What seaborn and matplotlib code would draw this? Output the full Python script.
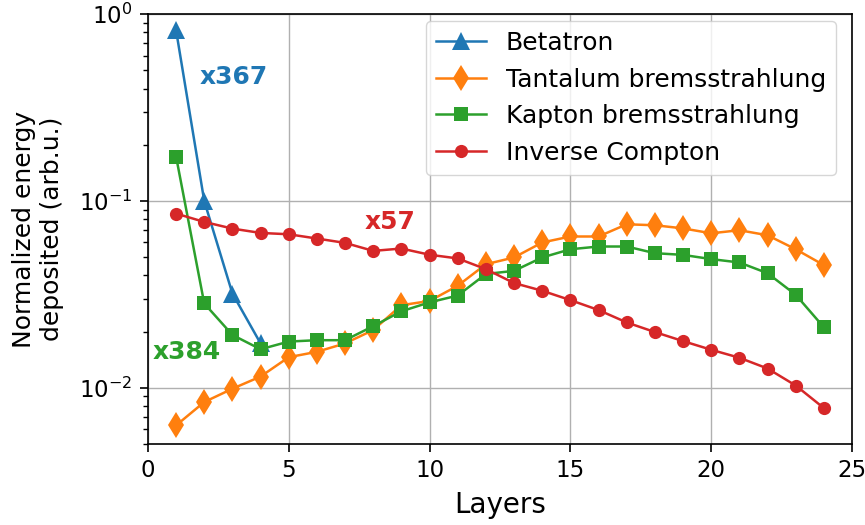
import numpy as np
import pandas as pd
import matplotlib
matplotlib.use("Agg")
import matplotlib.pyplot as plt
import seaborn as sns

# layer numbers
layers = list(range(1, 25))
betatron_layers = [1, 2, 3, 4]

# normalized energy deposited per layer
betatron = [0.82, 0.100, 0.032, 0.0173]
tantalum = [0.0063, 0.0084, 0.0099, 0.0115, 0.0146, 0.0156, 0.0173, 0.0204,
            0.0277, 0.0292, 0.0352, 0.0459, 0.0499, 0.0600, 0.0646, 0.0646,
            0.0751, 0.0742, 0.0714, 0.0672, 0.0698, 0.0656, 0.0552, 0.0454]
kapton = [0.173, 0.0283, 0.0192, 0.0161, 0.0177, 0.0180, 0.0180, 0.0214,
          0.0257, 0.0287, 0.0312, 0.0407, 0.0423, 0.0499, 0.0552, 0.0571,
          0.0571, 0.0526, 0.0515, 0.0489, 0.0469, 0.0411, 0.0315, 0.0211]
compton = [0.0857, 0.0773, 0.0712, 0.0675, 0.0664, 0.0630, 0.0597, 0.0541,
           0.0557, 0.0516, 0.0493, 0.0432, 0.0364, 0.0331, 0.0295, 0.0261,
           0.0224, 0.0199, 0.0178, 0.0160, 0.0145, 0.0127, 0.0103, 0.0078]

plt.rcParams['font.family'] = ['DejaVu Sans']

fig, ax = plt.subplots(figsize=(8.65, 5.25), dpi=100)
fig.subplots_adjust(left=0.171, right=0.985, top=0.973, bottom=0.154)

series = [
    (betatron_layers, betatron, "Betatron", "^", "#1f77b4", 12.5),
    (layers, tantalum, "Tantalum bremsstrahlung", "d", "#ff7f0e", 13.5),
    (layers, kapton, "Kapton bremsstrahlung", "s", "#2ca02c", 9.5),
    (layers, compton, "Inverse Compton", "o", "#d62728", 9.5),
]
for x, y, name, mk, col, ms in series:
    sns.lineplot(x=x, y=y, ax=ax, label=name, marker=mk, color=col,
                 markersize=ms, markeredgewidth=0, linewidth=1.8)

ax.set_yscale("log")
ax.set_xlim(0, 25)
ax.set_ylim(0.005, 1.0)
ax.grid(True, which="major", color="#b0b0b0", linewidth=1.0)
ax.tick_params(which="major", labelsize=16.5, length=6, width=1.2, pad=5)
ax.tick_params(which="minor", length=3.5, width=1.0)
ax.set_xlabel("Layers", fontsize=20, labelpad=6)
ax.set_ylabel("Normalized energy\ndeposited (arb.u.)", fontsize=18, labelpad=11)

ax.text(1.85, 0.46, "x367", color="#1f77b4", fontsize=18, fontweight="bold", va="center")
ax.text(7.7, 0.077, "x57", color="#d62728", fontsize=18, fontweight="bold", va="center")
ax.text(0.15, 0.0156, "x384", color="#2ca02c", fontsize=18, fontweight="bold", va="center")

ax.legend(loc="upper right", bbox_to_anchor=(0.977, 0.984), borderaxespad=0,
          fontsize=18, framealpha=0.8)
for sp in ax.spines.values():
    sp.set_linewidth(1.2)

plt.savefig("out.png", dpi=100)
